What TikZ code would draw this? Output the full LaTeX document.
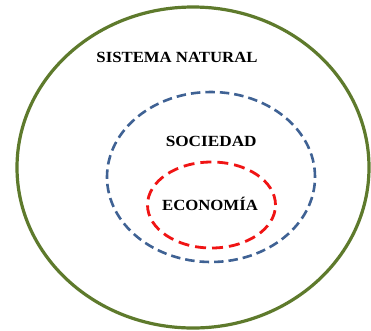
\documentclass[tikz,border=0pt]{standalone}
\usepackage{fontspec}
\setmainfont{Liberation Serif}
\usetikzlibrary{shapes.geometric}
\definecolor{olivegreen}{RGB}{94,122,44}
\definecolor{socblue}{RGB}{63,98,148}
\definecolor{ecored}{RGB}{240,20,20}
\tikzset{
  ring/.style={ellipse, inner sep=0pt, fill=none},
  label/.style={anchor=base, inner sep=0pt, font=\bfseries\fontsize{15.5}{15.5}\selectfont, text=black}
}
\begin{document}
\begin{tikzpicture}[x=1pt,y=-1pt]
\useasboundingbox[fill=white] (0,0) rectangle (371,330);
\node[ring, draw=olivegreen, line width=3.2pt, minimum width=352pt, minimum height=321pt] (nat) at (193,167.5) {};
\node[ring, draw=socblue, line width=2.6pt, dash pattern=on 9.5pt off 5pt, minimum width=208pt, minimum height=170pt] (soc) at (211,177) {};
\node[ring, draw=ecored, line width=2.8pt, dash pattern=on 11pt off 6pt, minimum width=128pt, minimum height=86pt] (eco) at (211.5,205) {};
\node[label] (tnat) at (177,62.7) {\scalebox{1.08}[1]{SISTEMA NATURAL}};
\node[label] (tsoc) at (211.2,146) {\scalebox{1.11}[1]{SOCIEDAD}};
\node[label] (teco) at (210,210.7) {\scalebox{1.08}[1]{ECONOMÍA}};
\end{tikzpicture}
\end{document}
